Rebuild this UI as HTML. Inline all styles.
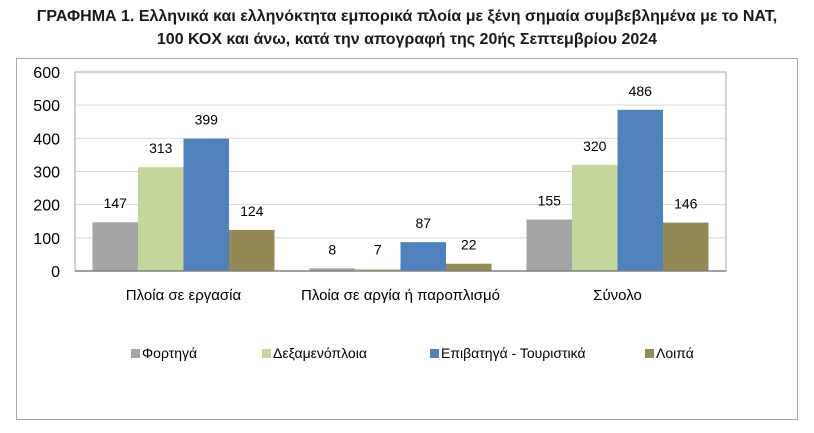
<!DOCTYPE html>
<html><head><meta charset="utf-8"><style>
body{margin:0;width:814px;height:433px;background:#fff;font-family:"Liberation Sans",sans-serif;overflow:hidden}
#title{position:absolute;left:0;top:5px;width:814px;text-align:center;font-weight:bold;font-size:16px;line-height:23px;color:#1a1a1a;white-space:nowrap}
#frame{position:absolute;left:16px;top:58px;width:782px;height:362px;border:1px solid #a6a6a6;box-sizing:border-box}
</style></head><body>
<div id="title">ΓΡΑΦΗΜΑ 1. Ελληνικά και ελληνόκτητα εμπορικά πλοία με ξένη σημαία συμβεβλημένα με το NAT,<br>100 ΚΟΧ και άνω, κατά την απογραφή της 20ής Σεπτεμβρίου 2024</div>
<div id="frame"></div>
<svg id="chart" width="814" height="433" style="position:absolute;left:0;top:0"></svg>
<script>
const categories=["Πλοία σε εργασία","Πλοία σε αργία ή παροπλισμό","Σύνολο"];
const seriesNames=["Φορτηγά","Δεξαμενόπλοια","Επιβατηγά - Τουριστικά","Λοιπά"];
const cargo=[147,8,155];
const tankers=[313,7,320];
const passenger=[399,87,486];
const other=[124,22,146];
const yTicks=[0,100,200,300,400,500,600];
const colors=["#a5a5a5","#c3d69b","#4f81bd","#948a54"];
const series=[cargo,tankers,passenger,other];
const NS="http://www.w3.org/2000/svg";
const svg=document.getElementById('chart');
const L=75,R=726,T=72,B=271,yMax=600;
const y=v=>B-(v/yMax)*(B-T);
const gw=(R-L)/categories.length, bw=45.5, pad=(gw-4*bw)/2;
function mk(t,a){const e=document.createElementNS(NS,t);for(const k in a)e.setAttribute(k,a[k]);svg.appendChild(e);return e;}
yTicks.forEach(t=>{
 const g=mk('line',{x1:L,x2:R,y1:y(t),y2:y(t),stroke:'#d9d9d9','stroke-width':1});
 
 
 const l=mk('text',{x:60,y:y(t)+6,'text-anchor':'end','font-size':16,fill:'#000'});l.textContent=t;
 
 
});
const box=mk('rect',{x:L,y:T,width:R-L,height:B-T,fill:'none',stroke:'#a6a6a6'});


categories.forEach((c,i)=>{
 series.forEach((s,j)=>{
  const x=L+i*gw+pad+j*bw;
  const r=mk('rect',{x:x,y:y(s[i]),width:bw,height:B-y(s[i]),fill:colors[j]});
  
  
  const t=mk('text',{x:x+bw/2,y:y(s[i])-14,'text-anchor':'middle','font-size':14,fill:'#000'});t.textContent=s[i];
  
  
 });
 const cl=mk('text',{x:L+i*gw+gw/2,y:300,'text-anchor':'middle','font-size':15,fill:'#000'});cl.textContent=c;
 
 
});
const ax=mk('line',{x1:L,x2:R,y1:B,y2:B,stroke:'#808080','stroke-width':1.5});


const lx=[131,262,430,645];
seriesNames.forEach((n,j)=>{
 const s=mk('rect',{x:lx[j],y:349,width:9,height:9,fill:colors[j]});
 
 
 const t=mk('text',{x:lx[j]+11,y:358,'font-size':14,fill:'#000'});t.textContent=n;
 
 
});
</script>
</body></html>
